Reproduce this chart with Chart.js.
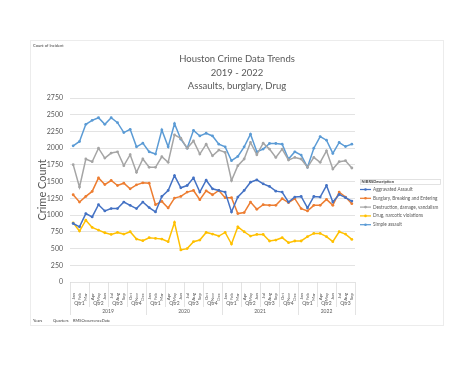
<!DOCTYPE html>
<html>
<head>
<meta charset="utf-8">
<script src="https://cdn.jsdelivr.net/npm/chart.js@4"></script>
<style>
  html, body { margin: 0; padding: 0; background: #fff; }
  #wrap { width: 474px; height: 366px; }
</style>
</head>
<body>
<div id="wrap"><canvas id="crimeChart" width="474" height="366"></canvas></div>
<script>
// Houston crime pivot chart, monthly counts Jan 2019 - Sep 2022
const monthNames = ['Jan','Feb','Mar','Apr','May','Jun','Jul','Aug','Sep','Oct','Nov','Dec'];
const years = ['2019', '2020', '2021', '2022'];
const quarterNames = ['Qtr1', 'Qtr2', 'Qtr3', 'Qtr4'];
const yTicks = [0, 250, 500, 750, 1000, 1250, 1500, 1750, 2000, 2250, 2500, 2750];

const aggravated = [874,825,1023,973,1156,1062,1097,1097,1195,1146,
  1097,1195,1112,1047,1279,1368,1591,1408,1442,1556,
  1344,1521,1393,1368,1344,1047,1270,1368,1492,1526,
  1467,1428,1358,1344,1195,1270,1279,1107,1279,1270,
  1442,1195,1309,1260,1210];
const burglary = [1304,1195,1279,1354,1556,1457,1517,1442,1477,1393,
  1452,1482,1477,1156,1205,1107,1255,1279,1344,1368,
  1230,1363,1304,1368,1260,1260,1023,1037,1195,1087,
  1156,1146,1146,1245,1186,1245,1097,1062,1146,1146,
  1235,1146,1344,1270,1171];
const destruction = [1754,1418,1838,1798,2000,1852,1927,1946,1739,1902,
  1640,1838,1714,1714,1872,1788,2198,2149,2000,2109,
  1912,2060,1887,1971,1937,1517,1739,1838,2085,1902,
  2075,1986,1862,1986,1823,1862,1838,1714,1862,1788,
  1961,1689,1798,1813,1704];
const drug = [884,761,924,815,776,736,711,741,716,751,
  642,618,662,652,642,603,889,479,499,603,
  627,741,716,687,741,568,825,751,687,711,
  711,613,627,662,588,613,613,677,726,726,
  677,603,751,716,637];
const simpleAssault = [2035,2100,2356,2416,2455,2356,2455,2381,2233,2282,
  2020,2075,1946,1912,2272,2020,2366,2134,2000,2267,
  2183,2223,2183,2060,2020,1813,1877,2020,2208,1946,
  1986,2070,2070,2060,1838,1946,1897,1714,2000,2174,
  2119,1922,2085,2025,2060];

const seriesNames = ['Aggravated Assault', 'Burglary, Breaking and Entering',
  'Destruction, damage, vandalism', 'Drug, narcotic violations', 'Simple assault'];
const seriesColors = ['#4472C4', '#ED7D31', '#A5A5A5', '#FFC000', '#5B9BD5'];

// month labels for every point (Sep 2022 is the last one)
const labels = [];
years.forEach(function(y) {
  monthNames.forEach(function(m) {
    if (labels.length < aggravated.length) labels.push(m);
  });
});

const textGray = '#595959';
const lineGray = '#d9d9d9';
const fontName = 'Lato, "Liberation Sans", sans-serif';

const extras = {
  id: 'extras',
  afterDraw(chart) {
    const ctx = chart.ctx;
    const xs = chart.scales.x;
    const n = labels.length;
    const w = (xs.right - xs.left) / n;
    const top = chart.chartArea.bottom;
    ctx.save();

    // outer frame
    ctx.strokeStyle = '#ececec';
    ctx.lineWidth = 1;
    ctx.strokeRect(30.5, 40.5, 413, 285);

    // title
    ctx.fillStyle = textGray;
    ctx.textAlign = 'center';
    ctx.textBaseline = 'middle';
    ctx.font = '9.5px ' + fontName;
    ctx.fillText('Houston Crime Data Trends', 237, 59);
    ctx.fillText('2019 - 2022', 237, 72.5);
    ctx.fillText('Assaults, burglary, Drug', 237, 85.5);

    // pivot field buttons
    ctx.textAlign = 'left';
    ctx.font = '4px ' + fontName;
    ctx.fillStyle = '#404040';
    ctx.fillText('Count of Incident', 33, 46);
    ctx.fillText('Years', 33, 321);
    ctx.fillText('Quarters', 53, 321);
    ctx.fillText('RMSOccurrenceDate', 73, 321);

    // quarter and year rows under the month labels
    ctx.strokeStyle = lineGray;
    ctx.lineWidth = 0.75;
    ctx.fillStyle = textGray;
    ctx.textAlign = 'center';
    ctx.font = '5px ' + fontName;
    const nq = Math.ceil(n / 3);
    for (let q = 0; q < nq; q++) {
      const start = q * 3;
      const cnt = Math.min(3, n - start);
      const cx = xs.left + (start + cnt / 2) * w;
      ctx.fillText(quarterNames[q % 4], cx, 303);
    }
    for (let q = 0; q <= nq; q++) {
      const idx = Math.min(q * 3, n);
      const x = Math.round(xs.left + idx * w) + 0.5;
      const yearEdge = (q % 4 === 0) || q === nq;
      ctx.beginPath();
      ctx.moveTo(x, top);
      ctx.lineTo(x, yearEdge ? 315 : 307);
      ctx.stroke();
    }
    years.forEach(function(y, k) {
      const start = k * 12;
      const cnt = Math.min(12, n - start);
      ctx.fillText(y, xs.left + (start + cnt / 2) * w, 311.5);
    });

    // legend
    ctx.strokeStyle = lineGray;
    ctx.strokeRect(360.5, 179.5, 80, 5);
    ctx.textAlign = 'left';
    ctx.fillStyle = '#404040';
    ctx.font = 'bold 4px ' + fontName;
    ctx.fillText('NIBRSDescription', 361.5, 182);
    ctx.font = '4.7px ' + fontName;
    seriesNames.forEach(function(name, i) {
      const y = 189.5 + i * 8.8;
      ctx.strokeStyle = seriesColors[i];
      ctx.lineWidth = 1.25;
      ctx.beginPath();
      ctx.moveTo(360, y);
      ctx.lineTo(371, y);
      ctx.stroke();
      ctx.fillStyle = seriesColors[i];
      ctx.beginPath();
      ctx.arc(365.5, y, 1.3, 0, Math.PI * 2);
      ctx.fill();
      ctx.fillStyle = textGray;
      ctx.fillText(name, 373, y);
    });
    ctx.restore();
  }
};

const allSeries = [aggravated, burglary, destruction, drug, simpleAssault];

new Chart(document.getElementById('crimeChart'), {
  type: 'line',
  data: {
    labels: labels,
    datasets: allSeries.map(function(vals, i) {
      return {
        label: seriesNames[i],
        data: vals,
        borderColor: seriesColors[i],
        backgroundColor: seriesColors[i],
        borderWidth: 1.5,
        pointRadius: 1.4,
        pointBorderWidth: 0,
        tension: 0
      };
    })
  },
  options: {
    responsive: false,
    animation: false,
    layout: { padding: { left: 30, right: 119, top: 98, bottom: 46 } },
    plugins: {
      legend: { display: false },
      title: { display: false },
      tooltip: { enabled: false }
    },
    scales: {
      x: {
        offset: true,
        grid: { display: false },
        border: { display: false },
        ticks: {
          minRotation: 90,
          maxRotation: 90,
          autoSkip: false,
          padding: 3,
          color: textGray,
          font: { family: fontName, size: 4.5 }
        },
        afterFit: function(scale) { scale.height = 38; }
      },
      y: {
        min: 0,
        max: 2750,
        afterBuildTicks: function(scale) {
          scale.ticks = yTicks.map(function(v) { return { value: v }; });
        },
        grid: { color: lineGray, lineWidth: 0.75, drawTicks: false },
        border: { display: false },
        ticks: {
          padding: 7,
          color: textGray,
          font: { family: fontName, size: 7 },
          callback: function(v) { return String(v); }
        },
        title: {
          display: true,
          text: 'Crime Count',
          color: textGray,
          padding: { top: 6, bottom: 0 },
          font: { family: fontName, size: 11 }
        },
        afterFit: function(scale) { scale.width = 40; }
      }
    }
  },
  plugins: [extras]
});
</script>
</body>
</html>
